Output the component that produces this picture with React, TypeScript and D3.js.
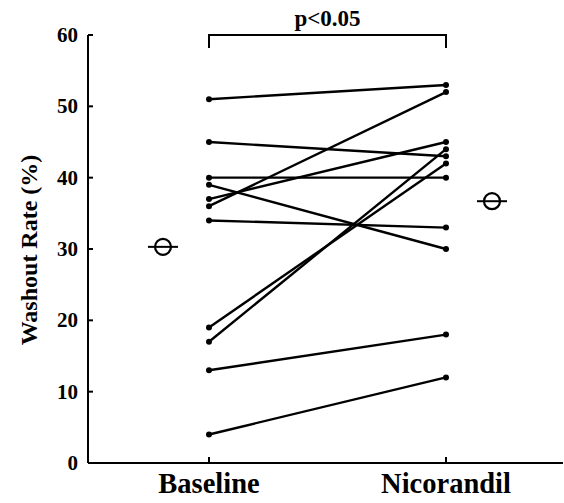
import React from "react";
import * as d3 from "d3";

const categories = ["Baseline", "Nicorandil"];
const baselineValues = [51, 45, 40, 39, 37, 36, 34, 19, 17, 13, 4];
const nicorandilValues = [53, 43, 40, 30, 45, 52, 33, 42, 44, 18, 12];
const meanValues = [30.3, 36.7];
const yTicks = [0, 10, 20, 30, 40, 50, 60];
const significanceLabel = "p<0.05";
const yAxisLabel = "Washout Rate (%)";

const W = 564;
const H = 503;
const FONT = "'Liberation Serif', 'Times New Roman', serif";

export default function App() {
  const y = d3.scaleLinear().domain([0, 60]).range([463, 35]);
  const x = d3.scalePoint<string>().domain(categories).range([209, 446]);
  const axisX = 88;
  const meanOffset = 46;
  const line = d3
    .line<[number, number]>()
    .x((d) => d[0])
    .y((d) => d[1]);

  const pairs = baselineValues.map((b, i) => [b, nicorandilValues[i]]);
  const xb = x(categories[0])!;
  const xn = x(categories[1])!;

  return (
    <svg
      width={W}
      height={H}
      style={{ position: "absolute", left: 0, top: 0, background: "#fff" }}
      fontFamily={FONT}
      fontWeight="bold"
    >
      {/* y axis */}
      <line x1={axisX} x2={axisX} y1={y(60)} y2={y(0)} stroke="#000" strokeWidth={2} />
      {yTicks.map((t) => (
        <g key={t}>
          <line x1={axisX} x2={axisX + 5} y1={y(t)} y2={y(t)} stroke="#000" strokeWidth={2} />
          <text
            x={axisX - 10}
            y={y(t)}
            textAnchor="end"
            dominantBaseline="central"
            fontSize={21}
            fill="#000"
          >
            {t}
          </text>
        </g>
      ))}
      {/* x axis */}
      <line x1={axisX} x2={563} y1={y(0)} y2={y(0)} stroke="#000" strokeWidth={2} />
      {categories.map((c) => (
        <g key={c}>
          <line x1={x(c)!} x2={x(c)!} y1={y(0)} y2={y(0) - 6} stroke="#000" strokeWidth={2} />
          <text x={x(c)!} y={493} textAnchor="middle" fontSize={28.5} fill="#000">
            {c}
          </text>
        </g>
      ))}
      {/* y label */}
      <text
        transform={`translate(37,250) rotate(-90)`}
        textAnchor="middle"
        fontSize={24}
        fill="#000"
      >
        {yAxisLabel}
      </text>
      {/* significance bracket */}
      <path
        d={`M${xb},48 V35 H${xn} V48`}
        fill="none"
        stroke="#000"
        strokeWidth={2}
      />
      <text x={(xb + xn) / 2} y={26} textAnchor="middle" fontSize={23} fill="#000">
        {significanceLabel}
      </text>
      {/* paired lines */}
      {pairs.map(([b, n], i) => (
        <g key={i}>
          <path
            d={line([
              [xb, y(b)],
              [xn, y(n)],
            ])!}
            stroke="#000"
            strokeWidth={2.4}
            fill="none"
          />
          <circle cx={xb} cy={y(b)} r={3} fill="#000" />
          <circle cx={xn} cy={y(n)} r={3} fill="#000" />
        </g>
      ))}
      {/* means */}
      {meanValues.map((m, i) => {
        const cx = i === 0 ? xb - meanOffset : xn + meanOffset;
        const cy = y(m);
        return (
          <g key={i}>
            <line x1={cx - 15} x2={cx + 15} y1={cy} y2={cy} stroke="#000" strokeWidth={2} />
            <circle cx={cx} cy={cy} r={8} fill="none" stroke="#000" strokeWidth={2.2} />
          </g>
        );
      })}
    </svg>
  );
}
